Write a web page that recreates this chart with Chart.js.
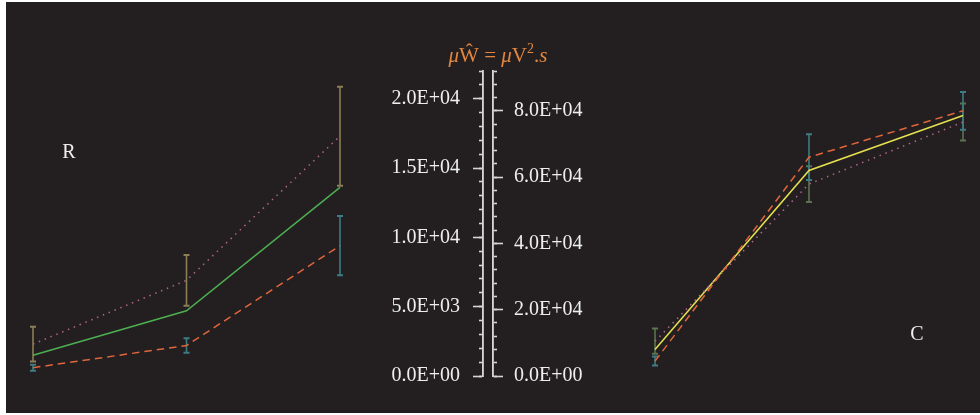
<!DOCTYPE html>
<html>
<head>
<meta charset="utf-8">
<script src="https://cdn.jsdelivr.net/npm/chart.js@4.4.0/dist/chart.umd.min.js"></script>
<style>
  html, body { margin: 0; padding: 0; background: #ffffff; }
  #wrap { position: relative; width: 980px; height: 415px; }
  #bg { position: absolute; left: 6px; top: 2px; right: 0; bottom: 2px; background: #231f20; }
  #wrap canvas { position: absolute; left: 0; top: 0; }
</style>
</head>
<body>
<div id="wrap"><div id="bg"></div><canvas id="chart" width="980" height="415"></canvas></div>
<script>
// three measurement points per panel
const points = [0, 1, 2];

// R panel, read on the left axis
const rSolid = [1500, 4700, 13600];
const rDotted = [2300, 6900, 17300];
const rDottedErr = [1260, 1830, 3570];
const rDashed = [600, 2200, 9400];
const rDashedErr = [220, 530, 2140];

// C panel, read on the right axis
const cSolid = [8000, 62000, 78600];
const cDotted = [10500, 57900, 76600];
const cDottedErr = [3800, 5400, 5600];
const cDashed = [4500, 66000, 80000];
const cDashedErr = [1360, 6900, 5700];

// axis ticks
const leftMax = 22000;
const leftTicks = [0, 5000, 10000, 15000, 20000];
const leftMinorTicks = [0, 1000, 2000, 3000, 4000, 5000, 6000, 7000, 8000, 9000, 10000, 11000,
  12000, 13000, 14000, 15000, 16000, 17000, 18000, 19000, 20000, 21000, 22000];
const rightMax = 92000;
const rightTicks = [0, 20000, 40000, 60000, 80000];
const rightMinorTicks = [0, 4000, 8000, 12000, 16000, 20000, 24000, 28000, 32000, 36000, 40000, 44000,
  48000, 52000, 56000, 60000, 64000, 68000, 72000, 76000, 80000, 84000, 88000, 92000];

const FONT = '"Liberation Serif", "DejaVu Serif", serif';
const TEXT = '#eeeeee';
const AXIS = '#d6d6d6';

// the chart area is the thin strip between the two axes; panels sit outside it
const AXIS_L = 483, AXIS_R = 493;
function placeX(firstPx, lastPx) {
  const unit = (lastPx - firstPx) / (points.length - 1);
  const min = (AXIS_L - firstPx) / unit;
  return { min: min, max: min + (AXIS_R - AXIS_L) / unit };
}
const rRange = placeX(33, 340);
const cRange = placeX(655, 963);

function sci(v) {
  if (v === 0) return '0.0E+00';
  const e = Math.floor(Math.log10(v) + 1e-9);
  const m = v / Math.pow(10, e);
  return m.toFixed(1) + 'E+' + String(e).padStart(2, '0');
}

function lineSet(data, xID, yID, color, dash, errs, errColor) {
  return {
    data: points.map((p, i) => ({ x: p, y: data[i] })),
    xAxisID: xID,
    yAxisID: yID,
    borderColor: color,
    borderWidth: 1.5,
    borderDash: dash,
    pointRadius: 0,
    fill: false,
    tension: 0,
    clip: false,
    errors: errs,
    errorColor: errColor
  };
}

const errorBars = {
  id: 'errorBars',
  beforeDatasetsDraw(chart) {
    const ctx = chart.ctx;
    chart.data.datasets.forEach((ds) => {
      if (!ds.errors) return;
      const xs = chart.scales[ds.xAxisID];
      const ys = chart.scales[ds.yAxisID];
      ctx.save();
      ctx.strokeStyle = ds.errorColor;
      ds.data.forEach((pt, i) => {
        const x = xs.getPixelForValue(pt.x);
        const top = ys.getPixelForValue(pt.y + ds.errors[i]);
        const bot = ys.getPixelForValue(pt.y - ds.errors[i]);
        ctx.lineWidth = 1.6;
        ctx.beginPath();
        ctx.moveTo(x, top);
        ctx.lineTo(x, bot);
        ctx.stroke();
        ctx.lineWidth = 2;
        ctx.beginPath();
        ctx.moveTo(x - 3, top);
        ctx.lineTo(x + 3, top);
        ctx.moveTo(x - 3, bot);
        ctx.lineTo(x + 3, bot);
        ctx.stroke();
      });
      ctx.restore();
    });
  }
};

const labels = {
  id: 'labels',
  afterDraw(chart) {
    const ctx = chart.ctx;
    ctx.save();
    // title
    const parts = [
      ['\u03bc', 'italic'], ['\u0174', ''], [' = ', ''], ['\u03bc', 'italic'],
      ['V', ''], ['2', 'sup'], ['.', ''], ['s', 'italic']
    ];
    const fontOf = (k) => (k === 'italic' ? 'italic ' : '') + (k === 'sup' ? '14px ' : '21px ') + FONT;
    let total = 0;
    parts.forEach(([t, k]) => { ctx.font = fontOf(k); total += ctx.measureText(t).width; });
    let x = 498 - total / 2;
    ctx.fillStyle = '#e3873f';
    ctx.textBaseline = 'alphabetic';
    ctx.textAlign = 'left';
    parts.forEach(([t, k]) => {
      ctx.font = fontOf(k);
      ctx.fillText(t, x, k === 'sup' ? 53 : 62);
      x += ctx.measureText(t).width;
    });
    // panel names
    ctx.fillStyle = TEXT;
    ctx.font = '20px ' + FONT;
    ctx.textAlign = 'center';
    ctx.textBaseline = 'middle';
    ctx.fillText('R', 69, 153);
    ctx.fillText('C', 917, 335);
    ctx.restore();
  }
};

function yAxis(pos, max, tickValues, weight, tick, withLabels, pad) {
  return {
    type: 'linear',
    position: pos,
    weight: weight,
    min: 0,
    max: max,
    afterFit: (s) => { s.width = withLabels ? 100 : 0; },
    afterBuildTicks: (s) => { s.ticks = tickValues.map((v) => ({ value: v })); },
    border: { display: true, color: AXIS, width: 1.6 },
    grid: { drawOnChartArea: false, drawTicks: true, tickLength: tick, tickColor: AXIS, tickWidth: 1.6 },
    ticks: {
      display: withLabels,
      autoSkip: false,
      padding: pad,
      color: TEXT,
      font: { family: FONT, size: 20 },
      callback: (v) => sci(v)
    }
  };
}

new Chart(document.getElementById('chart'), {
  type: 'line',
  data: {
    datasets: [
      lineSet(rDotted, 'xR0', 'yL', '#b0648a', [1.5, 4.8], rDottedErr, '#8a7f55'),
      lineSet(rDashed, 'xR0', 'yL', '#e0663c', [7.5, 5], rDashedErr, '#3d7c84'),
      lineSet(rSolid, 'xR0', 'yL', '#4caf50', []),
      lineSet(cDotted, 'xC0', 'yR', '#b0648a', [1.5, 4.8], cDottedErr, '#5b7450'),
      lineSet(cDashed, 'xC0', 'yR', '#e0663c', [7.5, 5], cDashedErr, '#3d7c84'),
      lineSet(cSolid, 'xC0', 'yR', '#e6e04f', [])
    ]
  },
  options: {
    responsive: false,
    animation: false,
    layout: { padding: { left: AXIS_L - 100, right: 980 - AXIS_R - 100, top: 71, bottom: 39 } },
    plugins: { legend: { display: false }, tooltip: { enabled: false } },
    scales: {
      xR0: {
        type: 'linear', display: false, bounds: 'data',
        afterDataLimits: (s) => { s.min = rRange.min; s.max = rRange.max; }
      },
      xC0: {
        type: 'linear', display: false, bounds: 'data',
        afterDataLimits: (s) => { s.min = cRange.min; s.max = cRange.max; }
      },
      yL: yAxis('left', leftMax, leftTicks, 1, 10, true, 13),
      yLm: yAxis('left', leftMax, leftMinorTicks, 0, 4, false, 0),
      yR: yAxis('right', rightMax, rightTicks, 1, 10, true, 11),
      yRm: yAxis('right', rightMax, rightMinorTicks, 0, 4, false, 0)
    }
  },
  plugins: [errorBars, labels]
});
</script>
</body>
</html>
